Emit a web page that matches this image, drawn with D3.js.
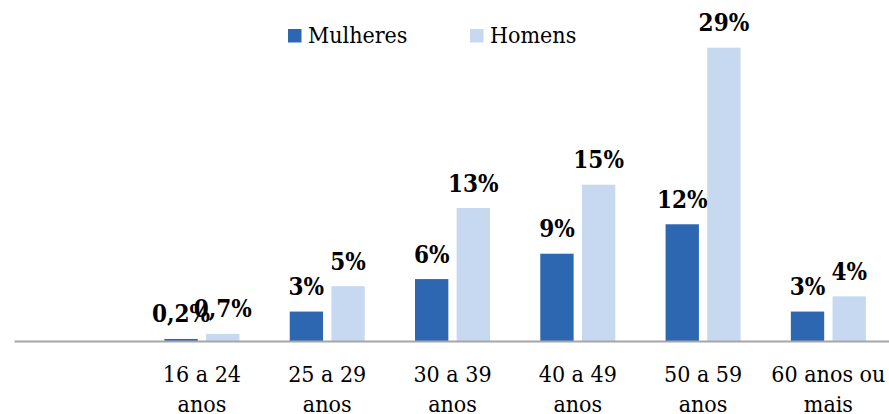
<!DOCTYPE html>
<html>
<head>
<meta charset="utf-8">
<script src="https://cdn.jsdelivr.net/npm/d3@7"></script>
<style>
  body { margin: 0; background: #fff; }
</style>
</head>
<body>
<svg id="chart" width="889" height="414"></svg>
<script>
// data
const categories = ["", "16 a 24 anos", "25 a 29 anos", "30 a 39 anos", "40 a 49 anos", "50 a 59 anos", "60 anos ou mais"];
const series = ["Mulheres", "Homens"];
const mulheres = [null, 0.2, 2.9, 6.1, 8.6, 11.5, 2.9];
const homens = [null, 0.7, 5.4, 13.1, 15.4, 28.9, 4.4];
const mulheresLabels = ["", "0,2%", "3%", "6%", "9%", "12%", "3%"];
const homensLabels = ["", "0,7%", "5%", "13%", "15%", "29%", "4%"];
const colors = ["#2e67b1", "#c6d9f0"];

// only DejaVu Serif resolves to a serif face here
const font = "'DejaVu Serif Condensed', 'DejaVu Serif'";
const svg = d3.select("#chart");
const baseline = 341;

const x0 = d3.scaleBand().domain(categories.map((c, i) => i)).range([14, 891]).padding(0);
const groupW = 75;
const x1 = d3.scaleBand().domain(series).range([0, groupW]).paddingInner(0.2).paddingOuter(0);
const y = d3.scaleLinear().domain([0, 30]).range([baseline, baseline - 304.5]);

const rows = [];
categories.forEach((c, i) => {
    if (mulheres[i] == null) return;
    rows.push({cat: i, s: "Mulheres", v: mulheres[i], label: mulheresLabels[i], color: colors[0]});
    rows.push({cat: i, s: "Homens", v: homens[i], label: homensLabels[i], color: colors[1]});
});

const off = (x0.bandwidth() - groupW) / 2;

svg.append("g").selectAll("rect").data(rows).join("rect")
    .attr("x", d => x0(d.cat) + off + x1(d.s))
    .attr("y", d => y(d.v))
    .attr("width", x1.bandwidth())
    .attr("height", d => baseline - y(d.v))
    .attr("fill", d => d.color);

svg.append("g").selectAll("text").data(rows).join("text")
    .attr("x", d => x0(d.cat) + off + x1(d.s) + x1.bandwidth() / 2)
    .attr("y", d => y(d.v) - 16.5)
    .attr("text-anchor", "middle")
    .style("font-family", font)
    .style("font-stretch", "condensed")
    .attr("font-size", 24)
    .attr("font-weight", "bold")
    .text(d => d.label);

// x axis
const xAxis = svg.append("g")
    .attr("transform", `translate(0,${baseline})`)
    .call(d3.axisBottom(x0).tickSize(0).tickSizeOuter(0).tickFormat(i => categories[i]));
xAxis.select(".domain").attr("stroke", "#a6a6a6").attr("stroke-width", 2);
xAxis.selectAll(".tick text")
    .attr("fill", "#000")
    .style("font-family", font)
    .style("font-stretch", "condensed")
    .attr("font-size", 23)
    .call(wrap, 122);

function wrap(sel, width) {
    sel.each(function() {
        const t = d3.select(this);
        const words = t.text().split(/\s+/).filter(w => w);
        t.text(null);
        let line = [];
        let lineNo = 0;
        let tspan = t.append("tspan").attr("x", 0).attr("y", 41);
        words.forEach(w => {
            line.push(w);
            tspan.text(line.join(" "));
            if (tspan.node().getComputedTextLength() > width && line.length > 1) {
                line.pop();
                tspan.text(line.join(" "));
                line = [w];
                lineNo++;
                tspan = t.append("tspan").attr("x", 0).attr("y", 41 + lineNo * 30).text(w);
            }
        });
        t.attr("dy", null);
    });
}

// legend
const legendX = [288, 470];
const legend = svg.append("g").selectAll("g").data(series).join("g")
    .attr("transform", (d, i) => `translate(${legendX[i]},29)`);
legend.append("rect")
    .attr("width", 13.5).attr("height", 13.5)
    .attr("fill", (d, i) => colors[i]);
legend.append("text")
    .attr("x", 20).attr("y", 14)
    .style("font-family", font)
    .style("font-stretch", "condensed")
    .attr("font-size", 23)
    .text(d => d);
</script>
</body>
</html>
